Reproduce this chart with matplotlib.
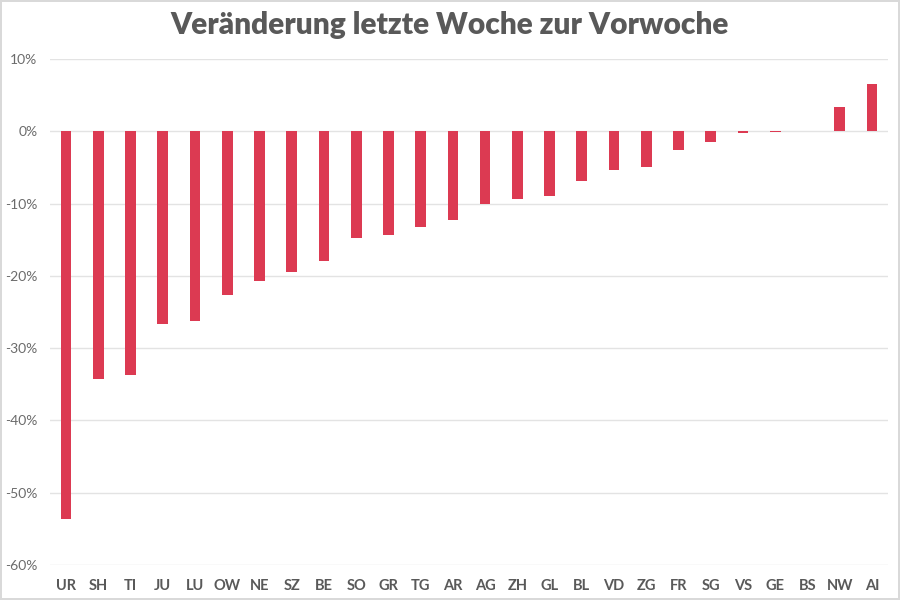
import matplotlib
matplotlib.use("Agg")
from matplotlib import pyplot as plt
from matplotlib.ticker import PercentFormatter

cantons = ["UR", "SH", "TI", "JU", "LU", "OW", "NE", "SZ", "BE", "SO", "GR", "TG", "AR",
           "AG", "ZH", "GL", "BL", "VD", "ZG", "FR", "SG", "VS", "GE", "BS", "NW", "AI"]
change = [-53.7, -34.3, -33.7, -26.7, -26.3, -22.7, -20.7, -19.5, -18.0, -14.8, -14.4, -13.3, -12.3,
          -10.1, -9.3, -9.0, -6.9, -5.3, -5.0, -2.6, -1.5, -0.3, -0.15, 0.0, 3.3, 6.6]
yticks = [10, 0, -10, -20, -30, -40, -50, -60]

plt.rcParams['font.family'] = ['Lato', 'DejaVu Sans']
plt.rcParams['axes.unicode_minus'] = False

fig = plt.figure(figsize=(9, 6), dpi=100, facecolor='white',
                 edgecolor='#d9d9d9', linewidth=1.5)
ax = fig.add_axes([50 / 900, 1 - 565 / 600, 838 / 900, (565 - 59) / 600])

x = list(range(len(cantons)))
ax.bar(x, change, width=0.33, color='#dc3a52', zorder=3)

ax.set_xlim(-0.5, len(cantons) - 0.5)
ax.set_ylim(-60, 10)
ax.set_yticks(yticks)
ax.yaxis.set_major_formatter(PercentFormatter(decimals=0))
ax.grid(axis='y', color='#e3e3e3', linewidth=1, zorder=0)
ax.set_xticks(x)
ax.set_xticklabels(cantons, fontweight='bold', fontsize=10.5, color='#595959')
ax.tick_params(axis='y', labelsize=10, labelcolor='#6b6b6b', length=0, pad=9)
ax.tick_params(axis='x', length=0, pad=10)
for s in ax.spines.values():
    s.set_visible(False)

fig.text(0.5, 1 - 25 / 600, "Veränderung letzte Woche zur Vorwoche",
         ha='center', va='center', fontsize=21.5, fontweight='heavy', color='#595959')

fig.savefig('out.png', dpi=100, edgecolor=fig.get_edgecolor())
